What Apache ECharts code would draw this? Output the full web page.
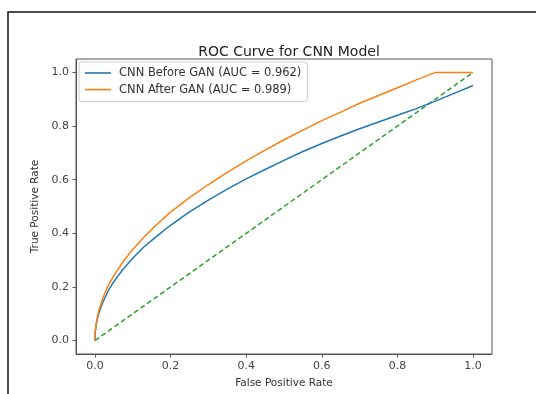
<!DOCTYPE html>
<html>
<head>
<meta charset="utf-8">
<script src="https://cdn.jsdelivr.net/npm/echarts@6/dist/echarts.min.js"></script>
<style>
html,body{margin:0;padding:0;background:#fff;}
#chart{width:536px;height:394px;}
</style>
</head>
<body>
<div id="chart"></div>
<script>
// ---- data ----
const tickValues = [0, 0.2, 0.4, 0.6, 0.8, 1.0];
const beforeFpr = [0, 0.001, 0.003, 0.006, 0.01, 0.02, 0.035, 0.05, 0.075, 0.1, 0.13, 0.16, 0.2, 0.25, 0.3, 0.35, 0.4, 0.45, 0.5, 0.55, 0.6, 0.65, 0.7, 0.75, 0.8, 0.85, 0.9, 0.95, 1.0];
const beforeTpr = [0, 0.033, 0.055, 0.078, 0.10, 0.14, 0.185, 0.22, 0.267, 0.307, 0.35, 0.385, 0.43, 0.48, 0.524, 0.565, 0.603, 0.638, 0.672, 0.705, 0.735, 0.763, 0.79, 0.815, 0.84, 0.865, 0.893, 0.922, 0.951];
const afterFpr = [0, 0.001, 0.003, 0.006, 0.01, 0.02, 0.035, 0.05, 0.075, 0.1, 0.13, 0.16, 0.2, 0.25, 0.3, 0.35, 0.4, 0.45, 0.5, 0.55, 0.6, 0.65, 0.7, 0.75, 0.8, 0.85, 0.9, 1.0];
const afterTpr = [0, 0.036, 0.06, 0.085, 0.11, 0.155, 0.205, 0.242, 0.295, 0.34, 0.386, 0.428, 0.479, 0.533, 0.582, 0.627, 0.67, 0.71, 0.749, 0.785, 0.82, 0.852, 0.885, 0.914, 0.943, 0.972, 1.0, 1.0];
const chanceFpr = [0, 1];
const chanceTpr = [0, 1];
const seriesNames = ['CNN Before GAN (AUC = 0.962)', 'CNN After GAN (AUC = 0.989)'];

const pair = (xs, ys) => xs.map((x, i) => [x, ys[i]]);
const font = 'DejaVu Sans';

const chart = echarts.init(document.getElementById('chart'), null, {renderer: 'canvas'});
chart.setOption({
  animation: false,
  backgroundColor: '#fff',
  title: {
    text: 'ROC Curve for CNN Model',
    left: 284, top: 40, textAlign: 'center',
    textStyle: {fontFamily: font, fontSize: 14, fontWeight: 'normal', color: '#222'}
  },
  grid: {left: 76, top: 59, right: 44, bottom: 40, containLabel: false, outerBoundsMode: 'none',
         show: true, borderColor: '#555', borderWidth: 1, backgroundColor: 'transparent'},
  legend: {
    orient: 'vertical', left: 79, top: 62,
    padding: [5, 6, 6, 6], itemGap: 4.6, itemWidth: 26, itemHeight: 1.6,
    icon: 'rect',
    backgroundColor: '#fff', borderColor: '#ccc', borderWidth: 1, borderRadius: 3,
    data: seriesNames,
    textStyle: {fontFamily: font, fontSize: 11.5, lineHeight: 12, color: '#333', padding: [0, 0, 0, 3]}
  },
  xAxis: {
    type: 'value', min: -0.05, max: 1.05,
    name: 'False Positive Rate', nameLocation: 'middle', nameGap: 24,
    nameTextStyle: {fontFamily: font, fontSize: 10.5, color: '#333'},
    axisLine: {show: true, onZero: false, lineStyle: {color: '#555', width: 1}},
    axisTick: {show: true, inside: false, length: 3.5, customValues: tickValues, lineStyle: {color: '#555'}},
    axisLabel: {customValues: tickValues, fontFamily: font, fontSize: 11, color: '#444', margin: 7,
                formatter: v => v.toFixed(1)},
    splitLine: {show: false}
  },
  yAxis: {
    type: 'value', min: -0.05, max: 1.05,
    name: 'True Positive Rate', nameLocation: 'middle', nameGap: 29,
    nameTextStyle: {fontFamily: font, fontSize: 10.5, color: '#333'},
    axisLine: {show: true, onZero: false, lineStyle: {color: '#555', width: 1}},
    axisTick: {show: true, inside: false, length: 3.5, customValues: tickValues, lineStyle: {color: '#555'}},
    axisLabel: {customValues: tickValues, fontFamily: font, fontSize: 11, color: '#444', margin: 7,
                formatter: v => v.toFixed(1)},
    splitLine: {show: false}
  },
  series: [
    {
      name: seriesNames[0], type: 'line', data: pair(beforeFpr, beforeTpr),
      symbol: 'none', smooth: false, z: 3,
      lineStyle: {color: '#1f77b4', width: 1.5}, itemStyle: {color: '#1f77b4'}
    },
    {
      name: seriesNames[1], type: 'line', data: pair(afterFpr, afterTpr),
      symbol: 'none', smooth: false, z: 3,
      lineStyle: {color: '#ff7f0e', width: 1.5}, itemStyle: {color: '#ff7f0e'}
    },
    {
      name: 'chance', type: 'line', data: pair(chanceFpr, chanceTpr),
      symbol: 'none', z: 2,
      lineStyle: {color: '#2ca02c', width: 1.5, type: [5, 3]}, itemStyle: {color: '#2ca02c'}
    }
  ],
  graphic: [{
    type: 'rect', silent: true, z: 100,
    shape: {x: 8, y: 12, width: 600, height: 500},
    style: {fill: 'none', stroke: '#111', lineWidth: 1.5}
  }]
});
</script>
</body>
</html>
